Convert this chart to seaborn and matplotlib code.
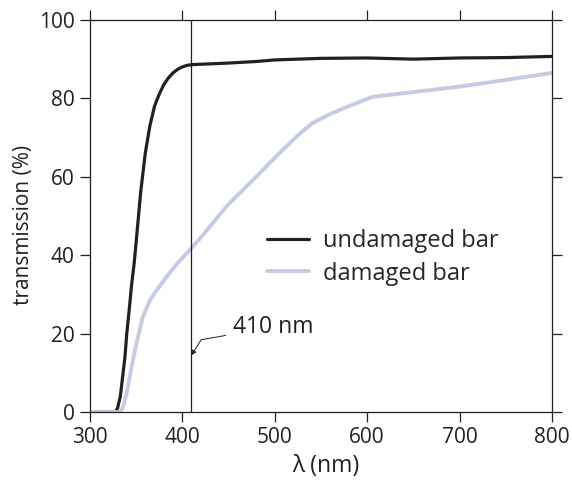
import matplotlib
matplotlib.use("Agg")
import matplotlib.pyplot as plt
import seaborn as sns
import pandas as pd

# undamaged bar transmission (%) vs wavelength (nm)
wl_undamaged = [300, 310, 320, 328, 330, 333, 335, 338, 340, 343, 345, 348, 350, 355, 360, 365, 370,
                375, 380, 385, 390, 395, 400, 405, 410, 430, 450, 480, 500, 550, 600, 650, 700, 750, 800]
tr_undamaged = [0, 0, 0, 0, 1, 4, 8, 14, 20, 27, 32, 38, 43, 56, 66, 73, 78,
                81, 83.5, 85.2, 86.5, 87.4, 88, 88.4, 88.6, 88.8, 89.0, 89.4, 89.8, 90.2, 90.3, 90.0, 90.3, 90.4, 90.7]

# damaged bar
wl_damaged = [300, 320, 333, 336, 340, 346, 350, 357, 365, 372, 383, 395, 408, 420, 450, 480, 505,
              527, 541, 560, 578, 606, 650, 700, 750, 800]
tr_damaged = [0, 0, 0, 1.3, 5, 12.5, 17, 24, 28.5, 31, 34.5, 38, 41.3, 44.5, 53, 60, 66,
              71, 73.7, 76, 77.8, 80.4, 81.6, 83, 84.7, 86.5]

cut_wl = 410

df = pd.concat([
    pd.DataFrame({"wl": wl_undamaged, "tr": tr_undamaged, "sample": "undamaged bar"}),
    pd.DataFrame({"wl": wl_damaged, "tr": tr_damaged, "sample": "damaged bar"}),
])

ink = "#231f20"

sns.set_style("ticks")
plt.rcParams["font.family"] = ["Open Sans", "DejaVu Sans"]

fig = plt.figure(figsize=(5.72, 4.86), dpi=100)
ax = fig.add_axes([0.157, 0.152, 0.808, 0.807])

sns.lineplot(data=df, x="wl", y="tr", hue="sample",
             palette={"undamaged bar": ink, "damaged bar": "#c5cbe6"},
             ax=ax, linewidth=2.3, sort=False)
ax.get_lines()[1].set_linewidth(2.8)

ax.axvline(cut_wl, color=ink, lw=0.9)
# label with a kinked leader to the 410 nm line
ax.annotate("410 nm", xy=(cut_wl, 14.5), xytext=(455, 21.7), fontsize=16.5,
            color=ink, va="center",
            arrowprops=dict(arrowstyle="-|>", color=ink, lw=0.7,
                            mutation_scale=7, shrinkA=3, shrinkB=0,
                            connectionstyle="angle,angleA=190,angleB=58,rad=0"))

ax.set_xlim(300, 800)
ax.set_ylim(0, 100)
ax.set_xticks(range(300, 801, 100))
ax.set_yticks(range(0, 101, 20))
ax.tick_params(direction="out", length=7, width=0.9, labelsize=15, colors=ink,
               top=True, right=True, labeltop=False, labelright=False, pad=4)
for s in ax.spines.values():
    s.set_linewidth(0.9)
    s.set_color(ink)

ax.set_xlabel("λ (nm)", fontsize=16.5, color=ink)
ax.xaxis.set_label_coords(0.51, -0.108)
ax.set_ylabel("transmission (%)", fontsize=15, color=ink)
ax.yaxis.set_label_coords(-0.12, 0.477)

leg = ax.legend(loc="center left", bbox_to_anchor=(0.383, 0.394), frameon=False,
                fontsize=17, handlelength=1.8, handletextpad=0.6, labelspacing=0.35,
                borderpad=0, borderaxespad=0)
leg.get_lines()[0].set_linewidth(2.3)
leg.get_lines()[1].set_linewidth(2.8)

fig.savefig("out.png", dpi=100)
